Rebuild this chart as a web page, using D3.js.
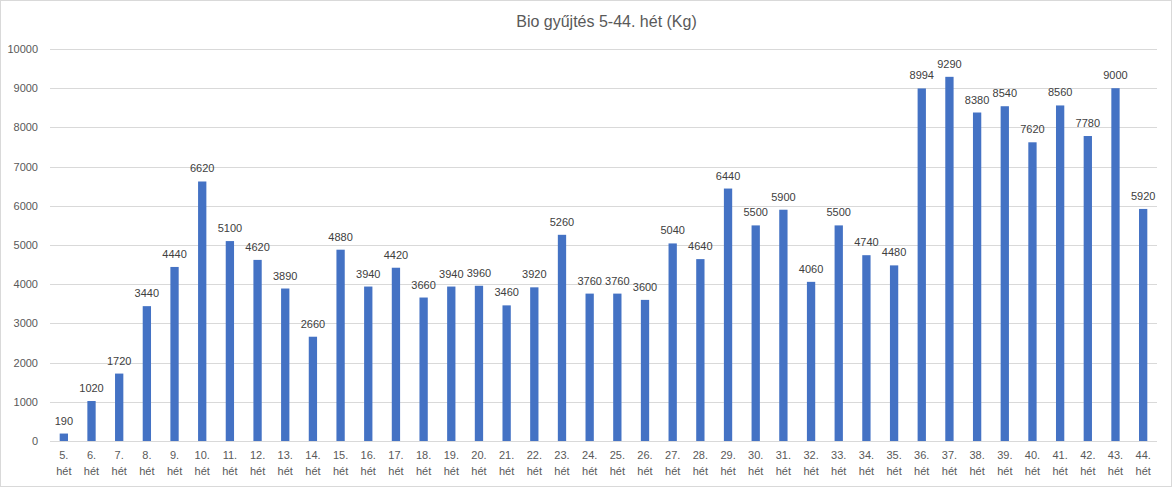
<!DOCTYPE html>
<html><head><meta charset="utf-8">
<script src="https://cdn.jsdelivr.net/npm/d3@7"></script>
<style>body{margin:0;background:#fff;} svg{display:block;font-family:"Liberation Sans",Arial,sans-serif;}</style>
</head><body>
<svg id="c" width="1172" height="488"></svg>
<script>
const title = "Bio gyűjtés 5-44. hét (Kg)";
const weeks = d3.range(5, 45).map(w => w + ".");
const values = [190,1020,1720,3440,4440,6620,5100,4620,3890,2660,4880,3940,4420,3660,3940,3960,3460,3920,5260,3760,3760,3600,5040,4640,6440,5500,5900,4060,5500,4740,4480,8994,9290,8380,8540,7620,8560,7780,9000,5920];
const yTicks = [0,1000,2000,3000,4000,5000,6000,7000,8000,9000,10000];

const svg = d3.select("#c");
const W = 1172, H = 488;
const m = {l:50, r:15, t:49, b:47};
svg.append("rect").attr("x",0.5).attr("y",0.5).attr("width",W-1).attr("height",H-2)
  .attr("fill","#fff").attr("stroke","#d9d9d9");

const x = d3.scaleBand().domain(weeks).range([m.l, W-m.r]).paddingInner(0.7).paddingOuter(0.35);
const y = d3.scaleLinear().domain([0,10000]).range([H-m.b, m.t]);

svg.append("text").attr("x",(m.l+W-m.r)/2+3).attr("y",27).attr("text-anchor","middle")
  .attr("font-size",16).attr("fill","#595959").text(title);

const g = svg.append("g");
g.selectAll("line.grid").data(yTicks).join("line")
  .attr("x1",m.l).attr("x2",W-m.r).attr("y1",d=>Math.round(y(d))+0.5).attr("y2",d=>Math.round(y(d))+0.5)
  .attr("stroke","#d9d9d9").attr("stroke-width",1);

const ya = svg.append("g").attr("transform",`translate(${m.l-12},0)`)
  .call(d3.axisLeft(y).tickValues(yTicks).tickSize(0).tickPadding(0).tickFormat(d3.format("d")));
ya.select(".domain").remove();
ya.selectAll("text").attr("font-size",11).attr("fill","#595959").attr("font-family","Liberation Sans, Arial, sans-serif");

g.selectAll("rect.bar").data(values).join("rect")
  .attr("x",(d,i)=>x(weeks[i])).attr("width",x.bandwidth())
  .attr("y",d=>y(d)).attr("height",d=>y(0)-y(d)).attr("fill","#4472c4");

g.selectAll("text.lbl").data(values).join("text")
  .attr("x",(d,i)=>x(weeks[i])+x.bandwidth()/2).attr("y",d=>y(d)-9)
  .attr("text-anchor","middle").attr("font-size",11).attr("fill","#404040").text(d=>d);

const xa = svg.append("g").attr("transform",`translate(0,${H-m.b})`)
  .call(d3.axisBottom(x).tickSize(0).tickFormat(""));
xa.select(".domain").remove();
xa.selectAll(".tick").each(function(d){
  const t = d3.select(this).append("text").attr("text-anchor","middle").attr("font-size",11).attr("fill","#595959");
  t.append("tspan").attr("x",0).attr("y",18).text(d);
  t.append("tspan").attr("x",0).attr("y",34).text("hét");
});
</script>
</body></html>
